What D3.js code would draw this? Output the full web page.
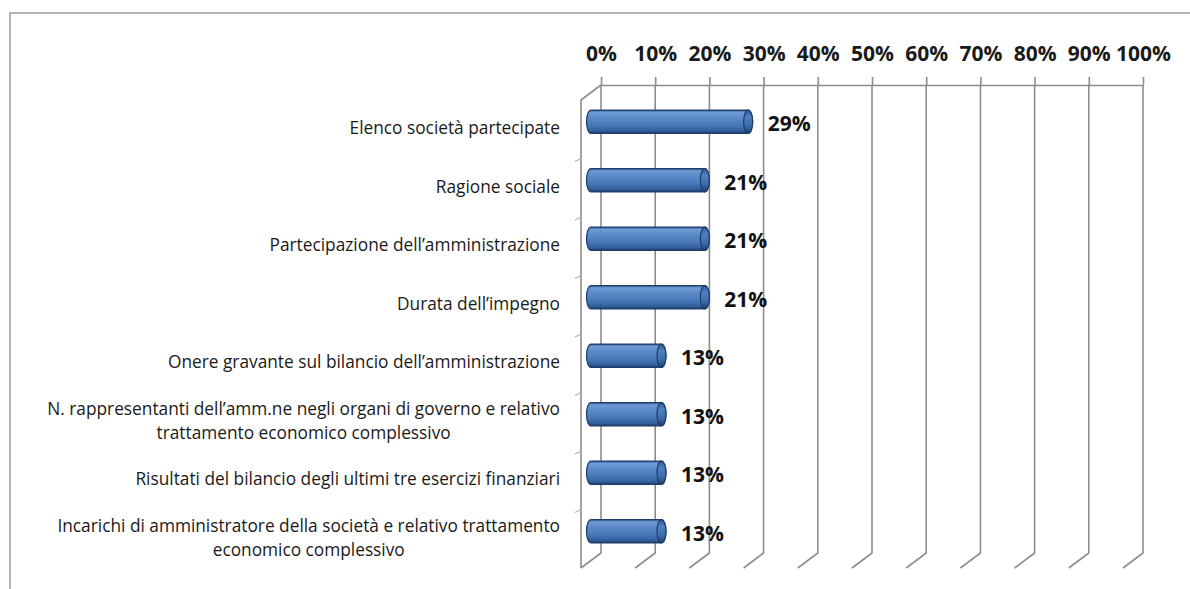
<!DOCTYPE html>
<html>
<head>
<meta charset="utf-8">
<script src="https://cdn.jsdelivr.net/npm/d3@7"></script>
<style>
  html, body { margin: 0; padding: 0; background: #ffffff; }
  svg { display: block; }
</style>
</head>
<body>
<svg id="chart" width="1190" height="589"></svg>
<script>
// ---------------- data ----------------
const categories = [
  "Elenco società partecipate",
  "Ragione sociale",
  "Partecipazione dell’amministrazione",
  "Durata dell’impegno",
  "Onere gravante sul bilancio dell’amministrazione",
  "N. rappresentanti dell’amm.ne negli organi di governo e relativo\ntrattamento economico complessivo",
  "Risultati del bilancio degli ultimi tre esercizi finanziari",
  "Incarichi di amministratore della società e relativo trattamento\neconomico complessivo"
];
const values = [0.29, 0.21, 0.21, 0.21, 0.13, 0.13, 0.13, 0.13];
const tickValues = [0, 0.1, 0.2, 0.3, 0.4, 0.5, 0.6, 0.7, 0.8, 0.9, 1.0];

// ---------------- layout ----------------
const backTop = 85, backBottom = 553;
const depthX = -20, depthY = 15;          // back plane -> front plane
const gridColor = "#8d8d8d";
const textFont = "'Open Sans', 'Liberation Sans', sans-serif";

const svg = d3.select("#chart");

// outer frame
svg.append("rect")
  .attr("x", 10).attr("y", 13)
  .attr("width", 1300).attr("height", 700)
  .attr("fill", "none")
  .attr("stroke", "#b4b4b4")
  .attr("stroke-width", 2);

const x = d3.scaleLinear().domain([0, 1]).range([601, 1143]);
const y = d3.scaleBand().domain(categories).range([backTop, backBottom]);

// gradient for cylinders
const defs = svg.append("defs");
const grad = defs.append("linearGradient")
  .attr("id", "cyl").attr("x1", 0).attr("y1", 0).attr("x2", 0).attr("y2", 1);
[[0, "#2f5a94"], [0.1, "#6f9bd4"], [0.3, "#5d8ccb"], [0.65, "#4878b8"], [0.88, "#33609c"], [1, "#1e3b66"]]
  .forEach(([o, c]) => grad.append("stop").attr("offset", o).attr("stop-color", c));
const capGrad = defs.append("linearGradient")
  .attr("id", "cap").attr("x1", 0).attr("y1", 0).attr("x2", 0).attr("y2", 1);
[[0, "#2f5a94"], [0.3, "#4f80c0"], [0.7, "#3a69a8"], [1, "#1e3b66"]]
  .forEach(([o, c]) => capGrad.append("stop").attr("offset", o).attr("stop-color", c));

// ---------------- walls / grid ----------------
const grid = svg.append("g");
tickValues.forEach(t => {
  const gx = x(t);
  grid.append("path")
    .attr("d", `M${gx},${backTop} L${gx},${backBottom} L${gx + depthX},${backBottom + depthY}`)
    .attr("fill", "none").attr("stroke", gridColor).attr("stroke-width", 1.6);
});
// left wall front edge + top diagonal
grid.append("path")
  .attr("d", `M${x(0)},${backTop} L${x(0) + depthX},${backTop + depthY} L${x(0) + depthX},${backBottom + depthY}`)
  .attr("fill", "none").attr("stroke", gridColor).attr("stroke-width", 1.6);

// category tick marks on the front edge (band boundaries)
categories.slice(1).forEach(c => {
  const ty = y(c) + depthY;
  grid.append("line")
    .attr("x1", x(0) + depthX - 6).attr("x2", x(0) + depthX)
    .attr("y1", ty + 3).attr("y2", ty)
    .attr("stroke", "#b0b0b0").attr("stroke-width", 1.2);
});

// top axis (percent labels)
const axis = d3.axisTop(x)
  .tickValues(tickValues)
  .tickFormat(d3.format(".0%"))
  .tickSize(8)
  .tickSizeOuter(0)
  .tickPadding(16);
const gAxis = svg.append("g").attr("transform", `translate(0,${backTop})`).call(axis);
gAxis.select(".domain").attr("stroke", gridColor).attr("stroke-width", 1.6);
gAxis.selectAll(".tick line").attr("stroke", gridColor).attr("stroke-width", 1.6);
gAxis.selectAll(".tick text")
  .attr("fill", "#1a1a1a")
  .style("font-family", textFont)
  .style("font-size", "21px")
  .style("font-weight", "700");

// ---------------- bars (cylinders) ----------------
const midX = depthX / 2, midY = depthY / 2;
const r = y.bandwidth() * 0.2;   // half height
const rx = 4.5;
const bars = svg.append("g");
categories.forEach((c, i) => {
  const cy = y(c) + y.bandwidth() / 2 + midY;
  const x0 = x(0) + midX;
  const x1 = x(values[i]) + midX;
  bars.append("path")
    .attr("d", `M${x0},${cy - r} L${x1},${cy - r} A${rx},${r} 0 0 1 ${x1},${cy + r} L${x0},${cy + r} A${rx},${r} 0 0 1 ${x0},${cy - r} Z`)
    .attr("fill", "url(#cyl)")
    .attr("stroke", "#1f3d6b").attr("stroke-width", 1.2);
  bars.append("ellipse")
    .attr("cx", x1).attr("cy", cy).attr("rx", rx).attr("ry", r)
    .attr("fill", "url(#cap)")
    .attr("stroke", "#1f3d6b").attr("stroke-width", 1.2);
  // value label
  svg.append("text")
    .attr("x", x1 + rx + 15)
    .attr("y", cy + 2)
    .attr("dy", "0.35em")
    .attr("fill", "#111")
    .style("font-family", textFont)
    .style("font-size", "21px")
    .style("font-weight", "700")
    .text(d3.format(".0%")(values[i]));
});

// ---------------- category labels ----------------
const labelRight = 560;
const lineH = 24;
categories.forEach(c => {
  const lines = c.split("\n");
  const cy = y(c) + y.bandwidth() / 2 + depthY - 1;
  const t = svg.append("text")
    .attr("fill", "#1a1a1a")
    .style("font-family", textFont)
    .style("font-size", "17.3px")
    .style("font-weight", "500");
  lines.forEach((ln, k) => {
    t.append("tspan")
      .attr("x", labelRight)
      .attr("y", cy + (k - (lines.length - 1) / 2) * lineH)
      .attr("dy", "0.35em")
      .text(ln);
  });
  if (lines.length === 1) {
    t.attr("text-anchor", "end");
  } else {
    const widths = t.selectAll("tspan").nodes().map(n => n.getComputedTextLength());
    const maxW = d3.max(widths);
    t.attr("text-anchor", "middle");
    t.selectAll("tspan").attr("x", labelRight - maxW / 2);
  }
});
</script>
</body>
</html>
